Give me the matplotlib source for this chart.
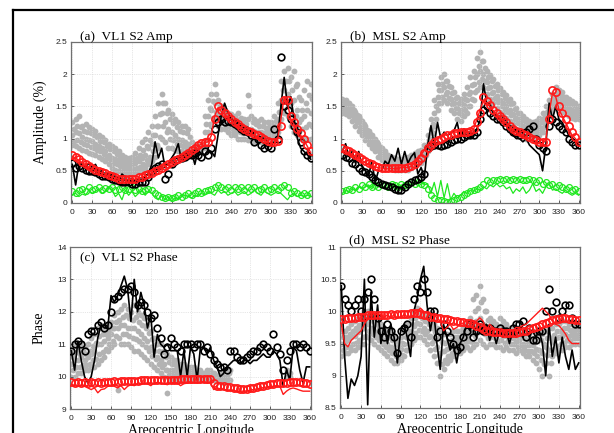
import numpy as np
import matplotlib.pyplot as plt
from matplotlib.lines import Line2D

# areocentric longitude, every 5 degrees (0 .. 360)
lon = np.arange(0, 361, 5)
nan = np.nan

# ---------------- (a) VL1 S2 Amp ----------------
a_grey_lo = [0.90, 0.88, 0.85, 0.82, 0.80, 0.78, 0.76, 0.74, 0.72, 0.68, 0.65, 0.60,
             0.55, 0.52, 0.50, 0.48, 0.46, 0.45, 0.45, 0.46, 0.48, 0.50, 0.55, 0.60,
             0.65, 0.72, 0.85, 1.00, 0.95, 0.85, 0.85, 0.82, 0.80, 0.80, 0.78, 0.75,
             0.75, 0.78, 0.80, 0.82, 0.85, 1.10, 1.20, 1.30, 1.20, 1.15, 1.15, 1.10,
             1.05, 1.05, 1.00, 1.00, 1.00, 0.98, 0.98, 0.95, 0.95, 0.95, 0.95, 0.98,
             1.00, 1.05, 1.10, 1.30, 1.40, 1.35, 1.20, 1.10, 1.05, 1.00, 1.00, 1.00,
             1.00]
a_grey_q1 = [0.97, 0.98, 0.95, 0.92, 0.90, 0.87, 0.85, 0.83, 0.80, 0.76, 0.72, 0.68,
             0.62, 0.60, 0.57, 0.55, 0.52, 0.52, 0.53, 0.55, 0.56, 0.60, 0.66, 0.72,
             0.80, 0.90, 1.02, 1.20, 1.10, 1.00, 0.98, 0.92, 0.90, 0.88, 0.86, 0.84,
             nan, nan, nan, nan, 0.98, 1.22, 1.32, 1.42, 1.30, 1.24, 1.20, 1.18,
             1.12, 1.12, 1.10, 1.08, 1.08, 1.12, 1.06, 1.04, 1.02, 1.02, 1.02, 1.04,
             1.06, 1.12, 1.20, 1.45, 1.58, 1.52, 1.38, 1.35, 1.25, 1.15, 1.18, 1.22,
             1.20]
a_grey_mid = [1.05, 1.10, 1.08, 1.02, 1.00, 0.98, 0.96, 0.92, 0.88, 0.85, 0.80, 0.75,
              0.70, 0.68, 0.65, 0.62, 0.60, 0.58, 0.60, 0.62, 0.65, 0.70, 0.75, 0.85,
              0.92, 1.05, 1.20, 1.40, 1.25, 1.15, 1.10, 1.05, 1.00, 0.98, 0.95, 0.92,
              0.85, 0.82, 0.85, 0.88, 1.10, 1.35, 1.45, 1.55, 1.40, 1.32, 1.28, 1.25,
              1.20, 1.20, 1.18, 1.15, 1.15, 1.30, 1.15, 1.12, 1.10, 1.10, 1.08, 1.10,
              1.12, 1.20, 1.30, 1.60, 1.75, 1.70, 1.55, 1.60, 1.45, 1.30, 1.35, 1.45,
              1.40]
a_grey_q3 = [1.15, 1.20, 1.18, 1.12, 1.10, 1.08, 1.05, 1.02, 0.96, 0.94, 0.88, 0.84,
             0.80, 0.76, 0.72, 0.68, 0.66, 0.64, 0.66, 0.70, 0.75, 0.82, 0.88, 0.98,
             1.05, 1.20, 1.38, 1.55, 1.40, 1.30, 1.24, 1.18, 1.12, 1.10, 1.08, 1.02,
             nan, nan, nan, nan, 1.22, 1.48, 1.58, 1.70, 1.50, 1.42, 1.36, 1.32,
             1.28, 1.28, 1.30, 1.24, 1.22, 1.50, 1.25, 1.22, 1.20, 1.20, 1.16, 1.18,
             1.18, 1.28, 1.42, 1.75, 1.90, 1.90, 1.75, 1.82, 1.65, 1.45, 1.55, 1.68,
             1.62]
a_grey_hi = [1.25, 1.30, 1.35, 1.20, 1.22, 1.18, 1.15, 1.12, 1.05, 1.02, 0.98, 0.92,
             0.88, 0.85, 0.80, 0.75, 0.72, 0.70, 0.72, 0.78, 0.85, 0.95, 1.00, 1.10,
             1.20, 1.35, 1.55, 1.70, 1.55, 1.45, 1.38, 1.30, 1.25, 1.20, 1.20, 1.15,
             0.95, 0.90, 0.88, 0.92, 1.35, 1.60, 1.70, 1.85, 1.60, 1.50, 1.45, 1.40,
             1.38, 1.35, 1.40, 1.32, 1.30, 1.68, 1.35, 1.30, 1.28, 1.30, 1.25, 1.25,
             1.25, 1.35, 1.55, 1.90, 2.05, 2.10, 1.95, 2.05, 1.85, 1.60, 1.75, 1.90,
             1.85]
a_green_c = [0.18, 0.15, 0.20, 0.22, 0.18, 0.25, 0.20, 0.22, 0.25, 0.20, 0.24, 0.22,
             0.25, 0.20, 0.22, 0.25, 0.20, 0.22, 0.25, 0.20, 0.22, 0.18, 0.20, 0.22,
             0.20, 0.15, 0.12, 0.10, 0.08, 0.10, 0.08, 0.10, 0.12, 0.10, 0.12, 0.15,
             0.12, 0.15, 0.18, 0.15, 0.18, 0.20, 0.22, 0.25, 0.28, 0.25, 0.22, 0.25,
             0.20, 0.25, 0.22, 0.25, 0.20, 0.25, 0.22, 0.25, 0.20, 0.22, 0.25, 0.20,
             0.22, 0.25, 0.20, 0.25, 0.28, 0.25, 0.15, 0.18, 0.15, 0.12, 0.15, 0.12,
             0.15]
a_green_l = [0.12, 0.15, 0.10, 0.14, 0.12, 0.20, 0.15, 0.18, 0.22, 0.15, 0.18, 0.25,
             0.20, 0.10, 0.15, 0.05, 0.20, 0.12, 0.18, 0.10, 0.15, 0.20, 0.12, 0.18,
             0.15, 0.08, 0.05, 0.12, 0.05, 0.10, 0.03, 0.08, 0.05, 0.10, 0.12, 0.10,
             0.08, 0.12, 0.10, 0.15, 0.12, 0.18, 0.15, 0.12, 0.20, 0.15, 0.18, 0.12,
             0.15, 0.18, 0.12, 0.15, 0.18, 0.12, 0.15, 0.20, 0.15, 0.12, 0.18, 0.15,
             0.12, 0.15, 0.18, 0.15, 0.10, 0.05, 0.12, 0.15, 0.10, 0.12, 0.10, 0.12,
             0.10]
a_blk_c = [0.62, 0.55, 0.58, 0.55, 0.52, 0.50, 0.50, 0.48, 0.45, 0.42, 0.42, 0.40,
           0.38, 0.36, 0.34, 0.33, 0.32, 0.32, 0.30, 0.30, 0.32, 0.32, 0.33, 0.40,
           0.50, 0.55, 0.58, 0.60, 0.38, 0.45, 0.60, 0.65, 0.68, 0.70, 0.72, 0.75,
           0.75, 0.78, 0.75, 0.72, 0.80, 0.75, 0.85, 1.15, 1.25, 1.30, 1.25, 1.28,
           1.25, 1.22, 1.20, 1.15, 1.12, 1.10, 1.05, 0.95, 1.00, 0.90, 0.85, 0.88,
           0.85, 1.15, 1.00, 2.27, 1.50, 1.45, 1.30, 1.20, 1.10, 0.95, 0.80, 0.75,
           0.70]
a_blk_l = [0.60, 0.28, 0.62, 0.58, 0.55, 0.62, 0.55, 0.60, 0.48, 0.50, 0.40, 0.45,
           0.40, 0.42, 0.35, 0.45, 0.40, 0.32, 0.38, 0.35, 0.36, 0.32, 0.40, 0.45,
           0.60, 0.95, 0.70, 0.85, 0.55, 0.62, 0.70, 0.78, 0.92, 0.65, 0.72, 0.78,
           0.80, 0.60, 0.82, 0.76, 0.75, 0.82, 0.80, 0.72, 1.05, 1.35, 1.55, 1.40,
           1.30, 1.28, 1.25, 1.20, 1.15, 1.18, 1.10, 1.05, 1.00, 1.02, 1.00, 0.95,
           0.90, 0.95, 1.00, 1.50, 1.95, 1.50, 1.65, 1.30, 1.00, 0.85, 0.80, 0.75,
           0.68]
a_red_c = [0.75, 0.72, 0.68, 0.64, 0.60, 0.57, 0.55, 0.52, 0.50, 0.48, 0.46, 0.44,
           0.42, 0.40, 0.38, 0.37, 0.37, 0.37, 0.37, 0.38, 0.40, 0.41, 0.43, 0.45,
           0.47, 0.50, 0.52, 0.55, 0.58, 0.60, 0.63, 0.66, 0.68, 0.72, 0.75, 0.78,
           0.82, 0.86, 0.90, 0.93, 0.95, 0.95, 1.02, 1.30, 1.50, 1.45, 1.40, 1.35,
           1.30, 1.26, 1.22, 1.18, 1.15, 1.12, 1.10, 1.07, 1.05, 1.02, 1.00, 0.97,
           0.95, 0.94, 0.97, 1.20, 1.60, 1.60, 1.35, 1.25, 1.15, 1.08, 1.00, 0.90,
           0.80]
a_red_l = [0.72, 0.70, 0.66, 0.62, 0.60, 0.55, 0.54, 0.50, 0.49, 0.46, 0.45, 0.42,
           0.41, 0.39, 0.37, 0.36, 0.36, 0.36, 0.37, 0.37, 0.39, 0.40, 0.42, 0.44,
           0.46, 0.49, 0.51, 0.54, 0.57, 0.59, 0.62, 0.65, 0.67, 0.70, 0.74, 0.77,
           0.80, 0.85, 0.88, 0.92, 0.94, 0.95, 1.05, 1.35, 1.48, 1.42, 1.38, 1.33,
           1.28, 1.24, 1.20, 1.17, 1.14, 1.11, 1.08, 1.05, 1.03, 1.00, 0.98, 0.95,
           0.93, 0.92, 0.98, 1.30, 1.65, 1.55, 1.30, 1.22, 1.12, 1.05, 0.97, 0.88,
           0.78]

# ---------------- (b) MSL S2 Amp ----------------
b_grey_lo = [1.40, 1.38, 1.35, 1.28, 1.20, 1.12, 1.05, 0.98, 0.92, 0.85, 0.80, 0.72,
             0.66, 0.62, 0.58, 0.55, 0.52, 0.52, 0.52, 0.52, 0.52, 0.55, 0.58, 0.60,
             0.62, 0.70, 0.80, 1.00, 1.20, 1.45, 1.55, 1.60, 1.55, 1.45, 1.40, 1.30,
             1.28, 1.35, 1.40, 1.50, 1.60, 1.75, 1.80, 1.80, 1.70, 1.62, 1.55, 1.48,
             1.42, 1.38, 1.32, 1.28, 1.22, 1.15, 1.10, 1.05, 1.00, 1.00, 1.00, 1.02,
             1.05, 1.10, 1.20, 1.35, 1.45, 1.50, 1.48, 1.42, 1.38, 1.35, 1.32, 1.30,
             1.30]
b_grey_q1 = [1.46, 1.43, 1.40, 1.34, 1.26, 1.18, 1.10, 1.03, 0.97, 0.90, 0.85, 0.77,
             0.70, 0.66, 0.62, 0.58, 0.56, 0.56, 0.56, 0.56, 0.57, 0.60, 0.63, 0.65,
             0.67, 0.75, 0.86, 1.08, 1.30, 1.55, 1.65, 1.70, 1.63, 1.53, 1.48, 1.39,
             1.36, 1.44, 1.50, 1.61, 1.72, 1.88, 1.92, 1.90, 1.79, 1.71, 1.63, 1.57,
             1.51, 1.46, 1.41, 1.36, 1.30, 1.24, 1.18, 1.12, 1.08, 1.06, 1.06, 1.08,
             1.12, 1.18, 1.28, 1.42, 1.52, 1.58, 1.55, 1.50, 1.45, 1.42, 1.38, 1.36,
             1.35]
b_grey_mid = [1.52, 1.48, 1.45, 1.40, 1.32, 1.25, 1.15, 1.08, 1.02, 0.95, 0.90, 0.82,
              0.75, 0.70, 0.66, 0.62, 0.60, 0.60, 0.60, 0.60, 0.62, 0.65, 0.68, 0.70,
              0.72, 0.80, 0.92, 1.15, 1.40, 1.65, 1.75, 1.80, 1.72, 1.62, 1.55, 1.48,
              1.45, 1.52, 1.60, 1.72, 1.85, 2.00, 2.05, 2.00, 1.88, 1.80, 1.72, 1.66,
              1.60, 1.55, 1.50, 1.45, 1.38, 1.32, 1.25, 1.20, 1.15, 1.12, 1.12, 1.15,
              1.18, 1.25, 1.35, 1.48, 1.58, 1.65, 1.62, 1.58, 1.52, 1.48, 1.45, 1.42,
              1.40]
b_grey_q3 = [1.57, 1.54, 1.50, 1.45, 1.37, 1.30, 1.22, 1.14, 1.07, 1.00, 0.95, 0.87,
             0.80, 0.75, 0.70, 0.67, 0.65, 0.64, 0.64, 0.65, 0.67, 0.70, 0.73, 0.75,
             0.77, 0.85, 0.98, 1.22, 1.50, 1.75, 1.85, 1.90, 1.81, 1.71, 1.63, 1.56,
             1.53, 1.61, 1.70, 1.83, 1.95, 2.12, 2.20, 2.10, 1.96, 1.89, 1.82, 1.75,
             1.69, 1.63, 1.59, 1.53, 1.46, 1.40, 1.32, 1.27, 1.22, 1.20, 1.18, 1.21,
             1.25, 1.32, 1.42, 1.54, 1.64, 1.72, 1.68, 1.65, 1.58, 1.55, 1.52, 1.48,
             1.45]
b_grey_hi = [1.62, 1.60, 1.55, 1.50, 1.42, 1.35, 1.28, 1.20, 1.12, 1.05, 1.00, 0.92,
             0.85, 0.80, 0.75, 0.72, 0.70, 0.68, 0.68, 0.70, 0.72, 0.75, 0.78, 0.80,
             0.82, 0.90, 1.05, 1.30, 1.60, 1.85, 1.95, 2.00, 1.90, 1.80, 1.72, 1.65,
             1.62, 1.70, 1.80, 1.95, 2.05, 2.25, 2.35, 2.20, 2.05, 1.98, 1.92, 1.85,
             1.78, 1.72, 1.68, 1.62, 1.55, 1.48, 1.40, 1.35, 1.30, 1.28, 1.25, 1.28,
             1.32, 1.40, 1.50, 1.60, 1.70, 1.80, 1.75, 1.72, 1.65, 1.62, 1.58, 1.55,
             1.50]
b_green_c = [0.18, 0.20, 0.22, 0.20, 0.25, 0.22, 0.28, 0.25, 0.30, 0.25, 0.28, 0.25,
             0.30, 0.28, 0.25, 0.30, 0.28, 0.25, 0.30, 0.28, 0.30, 0.32, 0.30, 0.32,
             0.30, 0.28, 0.22, 0.12, 0.08, 0.05, 0.05, 0.03, 0.02, 0.03, 0.05, 0.08,
             0.10, 0.12, 0.15, 0.18, 0.20, 0.22, 0.25, 0.30, 0.35, 0.32, 0.35, 0.36,
             0.38, 0.36, 0.38, 0.35, 0.38, 0.36, 0.38, 0.35, 0.36, 0.38, 0.35, 0.32,
             0.35, 0.30, 0.32, 0.28, 0.30, 0.25, 0.28, 0.25, 0.22, 0.25, 0.20, 0.22,
             0.18]
b_green_l = [0.15, 0.20, 0.18, 0.22, 0.20, 0.25, 0.22, 0.25, 0.28, 0.22, 0.30, 0.25,
             0.28, 0.22, 0.25, 0.30, 0.25, 0.22, 0.28, 0.25, 0.30, 0.28, 0.32, 0.30,
             0.35, 0.28, 0.30, 0.15, 0.32, 0.10, 0.35, 0.08, 0.30, 0.05, 0.15, 0.08,
             0.12, 0.18, 0.15, 0.20, 0.18, 0.22, 0.20, 0.25, 0.22, 0.28, 0.25, 0.30,
             0.25, 0.28, 0.22, 0.25, 0.15, 0.22, 0.18, 0.25, 0.15, 0.20, 0.30, 0.18,
             0.22, 0.15, 0.25, 0.30, 0.20, 0.22, 0.18, 0.15, 0.20, 0.15, 0.12, 0.15,
             0.12]
b_blk_c = [0.75, 0.72, 0.70, 0.62, 0.60, 0.55, 0.50, 0.48, 0.45, 0.40, 0.35, 0.32,
           0.30, 0.28, 0.26, 0.25, 0.22, 0.20, 0.20, 0.25, 0.30, 0.32, 0.35, 0.38,
           0.40, 0.45, 0.85, 0.88, 0.90, 0.90, 0.88, 0.90, 0.92, 0.95, 0.98, 1.00,
           1.00, 1.02, 1.05, 1.05, 1.05, 1.10, 1.30, 1.45, 1.50, 1.40, 1.35, 1.30,
           1.30, 1.25, 1.20, 1.15, 1.10, 1.08, 1.05, 1.08, 1.10, 1.15, 1.20, 1.00,
           0.90, 0.85, 0.80, 1.20, 1.30, 1.25, 1.20, 1.15, 1.10, 1.00, 0.95, 0.90,
           0.90]
b_blk_l = [0.80, 0.92, 0.72, 0.80, 0.62, 0.80, 0.58, 0.50, 0.42, 0.65, 0.32, 0.50,
           0.50, 0.65, 0.60, 0.75, 0.65, 0.85, 0.60, 0.80, 0.62, 0.72, 0.78, 0.45,
           0.55, 0.40, 0.90, 1.20, 0.90, 1.25, 1.00, 1.10, 1.05, 1.08, 1.12, 1.25,
           1.00, 1.15, 1.10, 1.02, 1.05, 1.15, 1.30, 1.85, 1.55, 1.50, 1.40, 1.35,
           1.30, 1.25, 1.20, 1.12, 1.05, 1.00, 1.00, 0.95, 1.00, 0.90, 0.85, 0.80,
           0.75, 0.50, 0.90, 1.55, 1.30, 1.50, 1.30, 1.25, 1.15, 1.05, 1.00, 0.95,
           0.90]
b_red_c = [0.85, 0.82, 0.80, 0.78, 0.75, 0.72, 0.68, 0.65, 0.62, 0.60, 0.58, 0.56,
           0.55, 0.55, 0.55, 0.55, 0.55, 0.55, 0.55, 0.55, 0.56, 0.58, 0.60, 0.65,
           0.70, 0.78, 0.85, 0.90, 0.95, 0.98, 1.00, 1.02, 1.05, 1.06, 1.08, 1.09,
           1.10, 1.10, 1.10, 1.12, 1.15, 1.25, 1.40, 1.65, 1.58, 1.52, 1.45, 1.40,
           1.35, 1.30, 1.25, 1.20, 1.15, 1.12, 1.10, 1.07, 1.05, 1.02, 1.00, 0.98,
           0.95, 0.94, 0.95, 1.30, 1.75, 1.72, 1.50, 1.40, 1.30, 1.20, 1.10, 1.02,
           0.95]
b_red_l = [0.82, 0.80, 0.78, 0.75, 0.73, 0.70, 0.66, 0.63, 0.60, 0.58, 0.56, 0.55,
           0.54, 0.53, 0.53, 0.54, 0.53, 0.54, 0.55, 0.55, 0.55, 0.57, 0.62, 0.68,
           0.75, 0.82, 0.88, 0.92, 0.96, 1.00, 1.02, 1.05, 1.06, 1.08, 1.10, 1.10,
           1.12, 1.12, 1.10, 1.10, 1.15, 1.30, 1.45, 1.60, 1.55, 1.50, 1.43, 1.38,
           1.33, 1.28, 1.23, 1.18, 1.14, 1.10, 1.08, 1.05, 1.03, 1.00, 0.98, 0.96,
           0.93, 0.92, 0.98, 1.40, 1.70, 1.65, 1.45, 1.35, 1.25, 1.15, 1.05, 1.00,
           0.92]

# ---------------- (c) VL1 S2 Phase ----------------
c_grey_lo = [10.0, 10.0, 10.1, 10.1, 10.2, 10.2, 10.3, 10.3, 10.4, 10.5, 10.6, 10.8,
             10.9, 11.0, 9.6, 11.0, 11.0, 11.0, 10.9, 10.8, 10.8, 10.7, 10.6, 10.5,
             10.4, 10.3, 10.2, 10.1, 10.0, 9.5, 9.9, 9.9, 9.9, 9.9, 9.9, 9.9,
             9.9, 9.9, 9.9, 9.9, 9.9, 9.9, 9.9, 9.9, 9.9, 9.85, 9.8, 9.85,
             9.9, nan, nan, nan, nan, nan, nan, nan, nan, nan, nan, nan,
             nan, nan, nan, nan, nan, 10.0, 10.1, nan, nan, nan, nan, nan,
             nan]
c_grey_q1 = [10.2, 10.3, 10.3, 10.35, 10.35, 10.4, 10.5, 10.55, 10.7, 10.75, 10.85, 11.0,
             11.1, 11.25, 11.2, 11.3, 11.3, 11.25, 11.2, 11.15, 11.1, 11.0, 10.9, 10.8,
             10.65, 10.55, 10.4, 10.3, 10.2, 10.05, 10.05, 10.05, 10.05, 10.0, 10.0, 10.0,
             10.0, 10.0, 9.95, 9.95, 9.95, 9.95, 9.95, 9.95, 9.9, 9.9, 9.85, 9.9,
             nan, nan, nan, nan, nan, nan, nan, nan, nan, nan, nan, nan,
             nan, nan, nan, nan, nan, nan, nan, nan, nan, nan, nan, nan,
             nan]
c_grey_mid = [10.4, 10.5, 10.5, 10.6, 10.5, 10.6, 10.7, 10.8, 11.0, 11.0, 11.1, 11.2,
              11.3, 11.5, 11.5, 11.6, 11.6, 11.5, 11.5, 11.5, 11.4, 11.3, 11.2, 11.1,
              10.9, 10.8, 10.6, 10.5, 10.4, 10.2, 10.2, 10.2, 10.2, 10.1, 10.1, 10.1,
              10.1, 10.1, 10.0, 10.0, 10.0, 10.0, 10.0, 10.0, 9.95, 10.0, 9.9, 10.0,
              nan, nan, nan, nan, nan, nan, nan, nan, nan, nan, nan, nan,
              nan, nan, nan, nan, nan, nan, nan, nan, nan, nan, nan, nan,
              nan]
c_grey_q3 = [10.6, 10.75, 10.7, 10.8, 10.7, 10.8, 10.95, 11.05, 11.25, 11.3, 11.3, 11.4,
             11.5, 11.7, 11.75, 11.85, 11.9, 11.8, 11.75, 11.85, 11.7, 11.6, 11.5, 11.35,
             11.15, 11.0, 10.8, 10.75, 10.6, 10.45, 10.4, 10.35, 10.35, 10.25, 10.25, 10.2,
             10.2, 10.2, 10.1, 10.1, 10.05, 10.1, 10.1, 10.05, 10.0, 10.05, 9.95, 10.1,
             nan, nan, nan, nan, nan, nan, nan, nan, nan, nan, nan, nan,
             nan, nan, nan, nan, nan, nan, nan, nan, nan, nan, nan, nan,
             nan]
c_grey_hi = [10.8, 11.0, 10.9, 11.0, 10.9, 11.0, 11.2, 11.3, 11.5, 11.6, 11.5, 11.6,
             11.7, 11.9, 12.0, 12.1, 12.2, 12.1, 12.0, 12.2, 12.0, 11.9, 11.8, 11.6,
             11.4, 11.2, 11.0, 11.0, 10.8, 10.7, 10.6, 10.5, 10.5, 10.4, 10.4, 10.3,
             10.3, 10.3, 10.2, 10.2, 10.1, 10.2, 10.2, 10.1, 10.0, 10.1, 10.0, 10.2,
             10.2, nan, nan, nan, nan, nan, nan, nan, nan, nan, nan, nan,
             nan, nan, nan, nan, nan, 10.2, 10.0, nan, nan, nan, nan, nan,
             nan]
c_blk_c = [10.8, 11.0, 11.1, 11.0, 10.8, 11.3, 11.4, 11.4, 11.6, 11.7, 11.5, 11.6,
           12.0, 12.4, 12.5, 12.6, 12.7, 12.7, 12.8, 12.6, 12.2, 12.3, 12.2, 12.0,
           11.8, 11.9, 11.5, 11.2, 10.7, 10.9, 11.2, 11.0, 10.9, 10.8, 11.0, 11.0,
           11.0, 10.9, 11.0, 11.0, 10.8, 10.9, 10.7, 10.5, 10.4, 10.3, 10.3, 10.2,
           10.8, 10.8, 10.6, 10.5, 10.5, 10.6, 10.7, 10.8, 10.8, 10.9, 11.0, 10.9,
           10.8, 11.3, 10.9, 10.7, 10.2, 10.5, 10.8, 11.0, 11.0, 10.9, 11.0, 10.9,
           10.8]
c_blk_l = [10.8, 10.2, 11.1, 10.5, 10.0, 9.8, 10.0, 10.5, 11.2, 11.6, 11.5, 11.5,
           12.5, 12.3, 12.5, 12.8, 13.1, 12.7, 11.7, 13.0, 12.0, 12.6, 12.2, 11.5,
           11.9, 10.6, 11.3, 11.0, 10.9, 11.0, 10.8, 10.8, 10.8, 10.0, 10.8, 10.0,
           10.9, 10.7, 9.9, 10.9, 10.9, 10.7, 10.9, 10.5, 10.3, 10.0, 10.1, 10.3,
           10.4, 10.5, 10.5, 10.4, 10.5, 10.5, 10.4, 10.5, 10.5, 10.6, 10.7, 10.6,
           10.6, 10.8, 10.7, 10.5, 9.7, 10.2, 9.9, 10.9, 10.8, 10.2, 9.8, 10.3,
           10.3]
c_red_c = [9.82, 9.80, 9.82, 9.80, 9.82, 9.80, 9.82, 9.80, 9.82, 9.80, 9.82, 9.82,
           9.82, 9.85, 9.82, 9.85, 9.85, 9.85, 9.87, 9.85, 9.87, 9.88, 9.88, 9.90,
           9.90, 9.90, 9.90, 9.90, 9.88, 9.88, 9.88, 9.90, 9.90, 9.92, 9.92, 9.92,
           9.92, 9.92, 9.92, 9.92, 9.92, 9.92, 9.92, 9.80, 9.72, 9.70, 9.70, 9.68,
           9.68, 9.66, 9.64, 9.63, 9.62, 9.62, 9.64, 9.66, 9.68, 9.70, 9.72, 9.74,
           9.76, 9.78, 9.80, 9.80, 9.80, 9.80, 9.82, 9.82, 9.82, 9.82, 9.80, 9.80,
           9.78]
c_red_l = [9.75, 9.72, 9.70, 9.72, 9.70, 9.65, 9.60, 9.65, 9.50, 9.60, 9.62, 9.70,
           9.72, 9.70, 9.65, 9.72, 9.60, 9.70, 9.75, 9.72, 9.78, 9.75, 9.80, 9.78,
           9.72, 9.80, 9.82, 9.80, 9.78, 9.75, 9.80, 9.82, 9.80, 9.72, 9.78, 9.80,
           9.80, 9.82, 9.80, 9.82, 9.85, 9.80, 9.82, 9.60, 9.65, 9.62, 9.60, 9.58,
           9.58, 9.57, 9.55, 9.55, 9.55, 9.56, 9.58, 9.60, 9.62, 9.64, 9.66, 9.68,
           9.70, 9.70, 9.72, 9.70, 9.45, 9.55, 9.62, 9.65, 9.62, 9.58, 9.55, 9.55,
           9.55]

# ---------------- (d) MSL S2 Phase ----------------
d_grey_lo = [9.30, 9.35, 9.35, 9.40, 9.40, 9.45, 9.50, 9.50, 9.60, 9.55, 9.50, 9.45,
             9.40, 9.35, 9.30, 9.25, 9.20, 9.20, 9.25, 9.30, 9.40, 9.50, 9.55, 9.60,
             9.60, 9.55, 9.50, 9.40, 9.30, 9.20, 9.00, 9.10, 9.20, 9.25, 9.30, 9.35,
             9.35, 9.40, 9.45, 9.40, 9.45, 9.50, 9.55, 9.50, 9.45, 9.50, 9.50, 9.45,
             9.45, 9.40, 9.45, 9.40, 9.40, 9.35, 9.40, 9.35, 9.30, 9.30, 9.25, 9.20,
             9.10, 9.00, 9.20, 9.00, 9.30, 9.35, 9.40, 9.40, 9.45, 9.45, 9.50, 9.50,
             9.50]
d_grey_q1 = [9.40, 9.44, 9.45, 9.50, 9.51, 9.56, 9.61, 9.62, 9.70, 9.65, 9.60, 9.55,
             9.50, 9.45, 9.40, 9.35, 9.30, 9.29, 9.33, 9.40, 9.50, 9.60, 9.66, 9.71,
             9.70, 9.65, 9.60, 9.51, 9.42, 9.32, 9.18, 9.24, 9.31, 9.35, 9.40, 9.43,
             9.44, 9.49, 9.54, 9.52, 9.62, 9.68, 9.72, 9.65, 9.58, 9.60, 9.59, 9.54,
             9.55, 9.51, 9.54, 9.49, 9.49, 9.44, 9.48, 9.42, 9.39, 9.39, 9.36, 9.31,
             9.25, 9.18, 9.32, 9.20, 9.41, 9.46, 9.50, 9.51, 9.55, 9.54, 9.58, 9.58,
             9.58]
d_grey_mid = [9.50, 9.52, 9.55, 9.60, 9.62, 9.68, 9.72, 9.75, 9.80, 9.75, 9.70, 9.65,
              9.60, 9.55, 9.50, 9.45, 9.40, 9.38, 9.42, 9.50, 9.60, 9.70, 9.78, 9.82,
              9.80, 9.75, 9.70, 9.62, 9.55, 9.45, 9.35, 9.38, 9.42, 9.45, 9.50, 9.52,
              9.52, 9.58, 9.62, 9.65, 9.80, 9.85, 9.90, 9.80, 9.72, 9.70, 9.68, 9.62,
              9.65, 9.62, 9.62, 9.58, 9.58, 9.52, 9.55, 9.50, 9.48, 9.48, 9.48, 9.42,
              9.40, 9.35, 9.45, 9.40, 9.52, 9.58, 9.60, 9.62, 9.65, 9.62, 9.65, 9.65,
              9.65]
d_grey_q3 = [9.60, 9.61, 9.65, 9.70, 9.74, 9.79, 9.84, 9.88, 9.90, 9.85, 9.80, 9.75,
             9.70, 9.65, 9.60, 9.55, 9.50, 9.46, 9.51, 9.60, 9.70, 9.80, 9.89, 9.94,
             9.90, 9.85, 9.80, 9.74, 9.68, 9.60, 9.52, 9.51, 9.54, 9.55, 9.60, 9.61,
             9.61, 9.66, 9.71, 9.78, 10.00, 10.05, 10.15, 10.00, 9.86, 9.80, 9.76, 9.71,
             9.78, 9.74, 9.71, 9.66, 9.66, 9.61, 9.62, 9.58, 9.56, 9.56, 9.59, 9.54,
             9.55, 9.50, 9.58, 9.58, 9.64, 9.69, 9.70, 9.74, 9.75, 9.71, 9.72, 9.72,
             9.72]
d_grey_hi = [9.70, 9.70, 9.75, 9.80, 9.85, 9.90, 9.95, 10.00, 10.00, 9.95, 9.90, 9.85,
             9.80, 9.75, 9.70, 9.65, 9.60, 9.55, 9.60, 9.70, 9.80, 9.90, 10.00, 10.05,
             10.00, 9.95, 9.90, 9.85, 9.80, 9.75, 9.70, 9.65, 9.65, 9.65, 9.70, 9.70,
             9.70, 9.75, 9.80, 9.90, 10.20, 10.25, 10.40, 10.20, 10.00, 9.90, 9.85, 9.80,
             9.90, 9.85, 9.80, 9.75, 9.75, 9.70, 9.70, 9.65, 9.65, 9.65, 9.70, 9.65,
             9.70, 9.65, 9.70, 9.75, 9.75, 9.80, 9.80, 9.85, 9.85, 9.80, 9.80, 9.80,
             9.80]
d_blk_c = [10.40, 10.20, 10.10, 10.00, 10.10, 10.20, 10.00, 10.20, 10.30, 10.50, 10.20, 9.90,
           9.70, 9.60, 9.80, 9.70, 9.60, 9.35, 9.70, 9.75, 9.80, 9.60, 10.20, 10.40,
           10.30, 10.50, 10.30, 10.00, 10.00, 9.60, 9.70, 9.80, 9.70, 9.60, 9.50, 9.40,
           9.45, 9.60, 9.70, 9.80, 9.60, 9.70, 9.80, 9.70, 9.75, 9.75, 9.70, 9.70,
           9.75, 9.70, 9.70, 9.65, 9.75, 9.80, 9.80, 9.85, 9.60, 9.75, 9.55, 9.55,
           9.70, 9.70, 10.00, 10.35, 10.00, 10.15, 9.90, 10.00, 10.10, 10.10, 9.90, 9.80,
           9.80]
d_blk_l = [10.4, 9.3, 8.65, 8.95, 8.85, 9.0, 9.3, 10.5, 8.55, 10.3, 9.6, 10.1,
           9.5, 9.8, 9.5, 9.8, 9.6, 9.2, 9.7, 9.8, 9.6, 9.3, 10.0, 10.2,
           10.5, 10.7, 10.1, 9.7, 10.0, 9.5, 9.1, 9.8, 9.6, 9.4, 9.5, 9.2,
           9.5, 9.6, 9.8, 9.7, 9.8, 9.6, 9.8, 9.7, 9.8, 9.55, 9.7, 9.5,
           9.7, 9.6, 9.7, 9.5, 9.7, 9.6, 9.7, 9.6, 9.75, 9.6, 9.7, 9.6,
           9.7, 9.5, 9.0, 9.8, 9.3, 9.6, 9.2, 9.6, 9.3, 9.1, 9.4, 9.1,
           9.2]
d_red_c = [9.88, 9.88, 9.90, 9.90, 9.90, 9.92, 9.92, 9.92, 9.94, 9.94, 9.95, 9.95,
           9.95, 9.95, 9.95, 9.96, 9.95, 9.96, 9.96, 9.96, 9.96, 9.97, 9.97, 9.97,
           9.96, 9.95, 9.95, 9.92, 9.92, 9.90, 9.90, 9.88, 9.88, 9.86, 9.85, 9.85,
           9.84, 9.84, 9.82, 9.82, 9.80, 9.78, 9.76, 9.72, 9.70, 9.70, 9.68, 9.68,
           9.68, 9.67, 9.66, 9.66, 9.66, 9.67, 9.68, 9.70, 9.70, 9.72, 9.74, 9.76,
           9.78, 9.80, 9.82, 9.84, 9.86, 9.88, 9.88, 9.90, 9.90, 9.88, 9.88, 9.86,
           9.86]
d_red_l = [9.80, 9.50, 9.45, 9.55, 9.60, 9.65, 9.70, 9.80, 9.90, 10.00, 9.95, 9.95,
           9.95, 9.90, 9.95, 9.90, 9.95, 9.90, 9.90, 9.95, 9.92, 9.90, 9.95, 10.00,
           10.05, 10.00, 9.98, 9.95, 9.95, 9.90, 9.85, 9.70, 9.75, 9.80, 9.72, 9.75,
           9.80, 9.82, 9.85, 9.80, 9.82, 9.85, 9.90, 9.85, 9.70, 9.80, 9.75, 9.72,
           9.70, 9.68, 9.70, 9.72, 9.70, 9.75, 9.75, 9.78, 9.80, 9.85, 9.90, 9.95,
           10.00, 10.05, 10.00, 9.95, 9.85, 9.80, 9.78, 9.72, 9.65, 9.55, 9.50, 9.50,
           9.50]

xticks = list(range(0, 361, 30))
amp_ticks = [0, 0.5, 1, 1.5, 2, 2.5]
c_ticks = [9, 10, 11, 12, 13, 14]
d_ticks = [8.5, 9, 9.5, 10, 10.5, 11]

SERIF = 'Liberation Serif'
plt.rcParams['font.family'] = 'Liberation Sans'

GREY = '#b3b3b3'
GREEN = '#1fe81f'
RED = '#ff1a1a'


'''
draw one panel: grey cloud, green (optional), black and red circles + lines
grey rows are given as (values, shift) so that the cloud fills in between the 5 degree steps
'''
def draw_panel(ax, grey, blk_c, blk_l, red_c, red_l, yticks, green_c=None, green_l=None):
    for g, shift in grey:
        ax.plot(lon + shift, g, 'o', color=GREY, ms=4.2, mec='none', zorder=1)
    if green_c is not None:
        ax.plot(lon, green_c, 'o', mfc='none', mec=GREEN, ms=4.2, mew=0.9, zorder=2)
        ax.plot(lon, green_l, '-', color=GREEN, lw=0.9, zorder=2)
    ax.plot(lon, blk_c, 'o', mfc='none', mec='k', ms=4.8, mew=1.2, zorder=3)
    ax.plot(lon, blk_l, '-', color='k', lw=1.2, zorder=3)
    ax.plot(lon, red_c, 'o', mfc='none', mec=RED, ms=5.2, mew=1.2, zorder=4)
    ax.plot(lon, red_l, '-', color=RED, lw=1.0, zorder=5)

    ax.set_xlim(-2, 362)
    ax.set_ylim(yticks[0], yticks[-1])
    ax.set_xticks(xticks)
    ax.set_xticklabels([str(t) for t in xticks])
    ax.set_yticks(yticks)
    ax.set_yticklabels(['%g' % t for t in yticks])
    ax.tick_params(direction='in', length=2.5, width=0.6, labelsize=6,
                   colors='#444444', labelcolor='#222222')
    ax.tick_params(axis='x', pad=4.5)
    ax.tick_params(axis='y', pad=2.5)
    ax.grid(True, color='#cfcfcf', lw=0.5, ls=':')
    for s in ax.spines.values():
        s.set_color('#707070')
        s.set_linewidth(0.9)


fig = plt.figure(figsize=(6.14, 4.33), dpi=100)

ax_a = fig.add_axes([71/614, 1-203/433, 241/614, 161/433])
ax_b = fig.add_axes([341/614, 1-203/433, 239/614, 161/433])
ax_c = fig.add_axes([70/614, 1-409/433, 241/614, 162/433])
ax_d = fig.add_axes([340/614, 1-408/433, 240/614, 161/433])

draw_panel(ax_a, [(a_grey_lo, 0), (a_grey_q1, 2.5), (a_grey_mid, 0), (a_grey_q3, 2.5), (a_grey_hi, 0)],
           a_blk_c, a_blk_l, a_red_c, a_red_l, amp_ticks, a_green_c, a_green_l)
draw_panel(ax_b, [(b_grey_lo, 0), (b_grey_q1, 2.5), (b_grey_mid, 0), (b_grey_q3, 2.5), (b_grey_hi, 0)],
           b_blk_c, b_blk_l, b_red_c, b_red_l, amp_ticks, b_green_c, b_green_l)
draw_panel(ax_c, [(c_grey_lo, 0), (c_grey_q1, 2.5), (c_grey_mid, 0), (c_grey_q3, 2.5), (c_grey_hi, 0)],
           c_blk_c, c_blk_l, c_red_c, c_red_l, c_ticks)
draw_panel(ax_d, [(d_grey_lo, 0), (d_grey_q1, 2.5), (d_grey_mid, 0), (d_grey_q3, 2.5), (d_grey_hi, 0)],
           d_blk_c, d_blk_l, d_red_c, d_red_l, d_ticks)

# panel titles
ax_a.text(0.037, 1.012, '(a)  VL1 S2 Amp', transform=ax_a.transAxes, family=SERIF, fontsize=9.5)
ax_b.text(0.038, 1.012, '(b)  MSL S2 Amp', transform=ax_b.transAxes, family=SERIF, fontsize=9.5)
ax_c.text(0.04, 0.915, '(c)  VL1 S2 Phase', transform=ax_c.transAxes, family=SERIF, fontsize=9.5,
          zorder=6)
ax_d.text(0.038, 1.02, '(d)  MSL S2 Phase', transform=ax_d.transAxes, family=SERIF, fontsize=9.5)

ax_a.set_ylabel('Amplitude (%)', family=SERIF, fontsize=10, labelpad=6)
ax_c.set_ylabel('Phase', family=SERIF, fontsize=10, labelpad=8)
ax_c.set_xlabel('Areocentric Longitude', family=SERIF, fontsize=10, labelpad=1)
ax_d.set_xlabel('Areocentric Longitude', family=SERIF, fontsize=10, labelpad=1)

# page frame (left and top edges)
fig.add_artist(Line2D([13/614, 13/614], [0, 1-10/433], transform=fig.transFigure, color='k', lw=1.6))
fig.add_artist(Line2D([13/614, 1], [1-10/433, 1-10/433], transform=fig.transFigure, color='k', lw=1.6))

fig.savefig('out.png', dpi=100)
